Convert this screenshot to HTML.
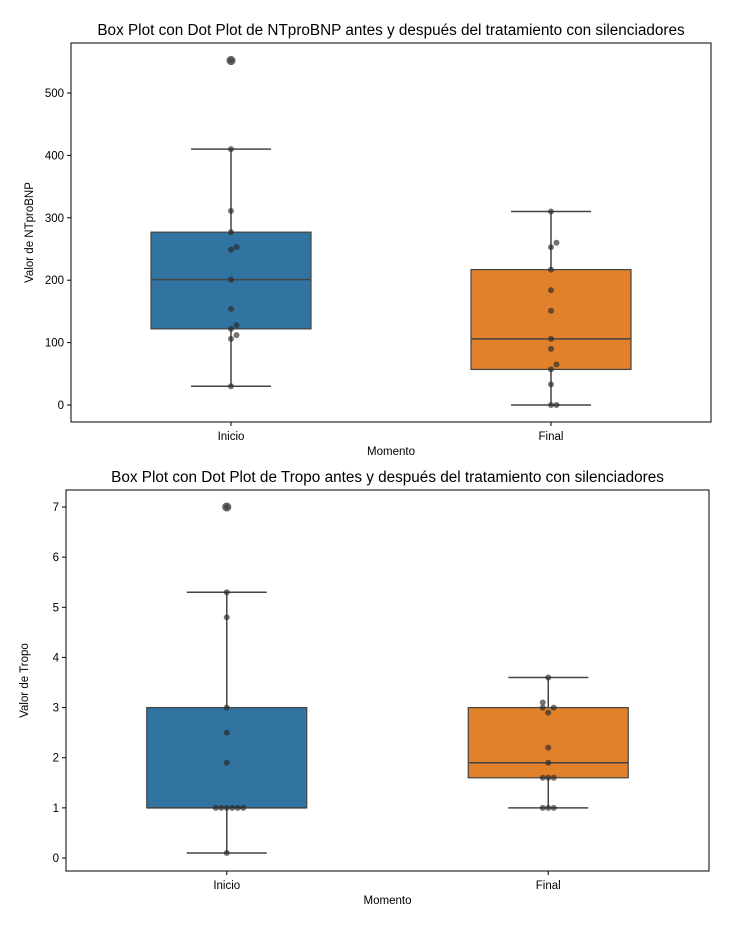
<!DOCTYPE html>
<html><head><meta charset="utf-8"><style>
body{margin:0;background:#fff;}
svg{display:block;font-family:"Liberation Sans","DejaVu Sans",sans-serif;}
</style></head><body>
<svg id="c" width="750" height="926"></svg>
<script>
const categories = ["Inicio","Final"];
const ntInicio = [552,410,311,277,249,253,201,154,128,122,112,106,30];
const ntFinal = [310,260,253,217,184,151,106,90,65,57,33,0,0];
const ntTicks = [0,100,200,300,400,500];
const tpInicio = [7,5.3,4.8,3.0,2.5,1.9,1,1,1,1,1,1,0.1];
const tpFinal = [3.6,3.1,3.0,3.0,2.9,2.2,1.9,1.6,1.6,1.6,1,1,1];
const tpTicks = [0,1,2,3,4,5,6,7];
const colors = ["#3274a1","#e1812c"];
const NS="http://www.w3.org/2000/svg";
const svg=document.getElementById('c');
function mk(tag,attrs,parent){const e=document.createElementNS(NS,tag);for(const k in attrs)e.setAttribute(k,attrs[k]);(parent||svg).appendChild(e);return e;}
function q(s,p){const i=(s.length-1)*p,lo=Math.floor(i),hi=Math.ceil(i);return s[lo]+(s[hi]-s[lo])*(i-lo);}
function panel(cfg){
 const g=mk('g',{});
 
 
 const y=v=>cfg.y0+(v-cfg.vmin)*(cfg.y1-cfg.y0)/(cfg.vmax-cfg.vmin);
 const x=i=>cfg.left+(cfg.right-cfg.left)*(i+0.5)/categories.length;
 const t=mk('text',{x:(cfg.left+cfg.right)/2,y:cfg.top-8,'text-anchor':'middle','font-size':15.3,fill:'#000'},g);
 t.textContent=cfg.title;
 
 
 cfg.series.forEach((data,i)=>{
  const s=[...data].sort((a,b)=>a-b);
  const q1=q(s,.25),md=q(s,.5),q3=q(s,.75),iqr=q3-q1;
  const inl=s.filter(v=>v>=q1-1.5*iqr&&v<=q3+1.5*iqr);
  const lo=inl[0],hi=inl[inl.length-1];
  const cx=x(i),bw=160,cw=80;
  const bg=mk('g',{},g);
  
  
  mk('line',{x1:cx,x2:cx,y1:y(lo),y2:y(q1),stroke:'#444','stroke-width':1.5},bg);
  mk('line',{x1:cx,x2:cx,y1:y(q3),y2:y(hi),stroke:'#444','stroke-width':1.5},bg);
  mk('line',{x1:cx-cw/2,x2:cx+cw/2,y1:y(lo),y2:y(lo),stroke:'#444','stroke-width':1.5},bg);
  mk('line',{x1:cx-cw/2,x2:cx+cw/2,y1:y(hi),y2:y(hi),stroke:'#444','stroke-width':1.5},bg);
  mk('rect',{x:cx-bw/2,y:y(q3),width:bw,height:y(q1)-y(q3),fill:colors[i],stroke:'#444','stroke-width':1.2},bg);
  mk('line',{x1:cx-bw/2,x2:cx+bw/2,y1:y(md),y2:y(md),stroke:'#444','stroke-width':1.5},bg);
  s.filter(v=>v<lo||v>hi).forEach(v=>{
   const o=mk('circle',{cx:cx,cy:y(v),r:4,fill:'#888',stroke:'#555','stroke-width':1},bg);
   
   
  });
  const placed=[];
  [...data].sort((a,b)=>a-b).forEach(v=>{
   const py=y(v);const near=placed.filter(p=>Math.abs(p.y-py)<6);
   const n=near.length;const off=n===0?0:(n%2?1:-1)*Math.ceil(n/2)*5.5;
   placed.push({y:py});
   const d=mk('circle',{cx:cx+off,cy:py,r:3,fill:'rgba(40,40,40,0.65)'},bg);
   
   
  });
 });
 const ax=mk('rect',{x:cfg.left,y:cfg.top,width:cfg.right-cfg.left,height:cfg.bottom-cfg.top,fill:'none',stroke:'#000','stroke-width':1},g);
 
 
 cfg.ticks.forEach(v=>{
  mk('line',{x1:cfg.left-4,x2:cfg.left,y1:y(v),y2:y(v),stroke:'#000'},g);
  const l=mk('text',{x:cfg.left-7,y:y(v)+4,'text-anchor':'end','font-size':11.5},g);
  l.textContent=v;
  
  
 });
 categories.forEach((c,i)=>{
  mk('line',{x1:x(i),x2:x(i),y1:cfg.bottom,y2:cfg.bottom+4,stroke:'#000'},g);
  const l=mk('text',{x:x(i),y:cfg.bottom+18,'text-anchor':'middle','font-size':11.5},g);
  l.textContent=c;
  
  
 });
 const xl=mk('text',{x:(cfg.left+cfg.right)/2,y:cfg.bottom+33,'text-anchor':'middle','font-size':11.5},g);
 xl.textContent='Momento';
 
 
 const yc=(cfg.top+cfg.bottom)/2;
 const yl=mk('text',{x:cfg.left-38,y:yc,'text-anchor':'middle','font-size':11.5,transform:`rotate(-90 ${cfg.left-38} ${yc})`},g);
 yl.textContent=cfg.ylabel;
 
 
}
panel({name:'ntprobnp-panel',left:71,right:711,top:43,bottom:422,vmin:0,vmax:500,y0:405,y1:93,
 ticks:ntTicks,series:[ntInicio,ntFinal],ylabel:'Valor de NTproBNP',
 title:'Box Plot con Dot Plot de NTproBNP antes y después del tratamiento con silenciadores'});
panel({name:'tropo-panel',left:66,right:709,top:490,bottom:871,vmin:0,vmax:7,y0:858,y1:507,
 ticks:tpTicks,series:[tpInicio,tpFinal],ylabel:'Valor de Tropo',
 title:'Box Plot con Dot Plot de Tropo antes y después del tratamiento con silenciadores'});
</script>
</body></html>
